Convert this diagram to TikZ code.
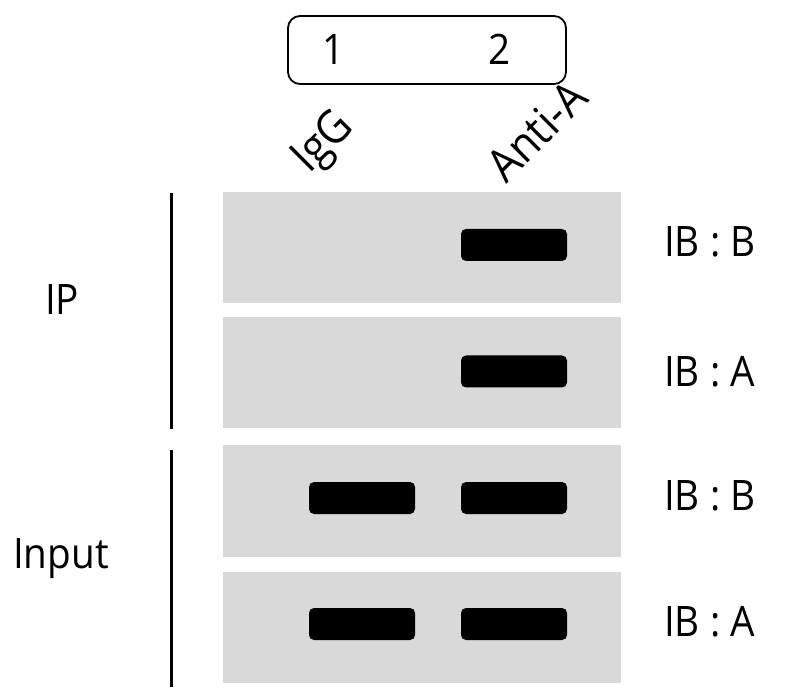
\documentclass[tikz,border=0pt]{standalone}
\usepackage{fontspec}
\setmainfont{Open Sans}[FakeStretch=0.92]
\usepackage{tikz}
\definecolor{gelgray}{HTML}{D9D9D9}
\tikzset{
    lbl/.style={inner sep=0pt, font=\fontsize{42}{50}\selectfont},
    lanelbl/.style={inner sep=0pt, rotate=45, anchor=base west, font=\fontsize{46}{54}\selectfont},
    panel/.style={fill=gelgray, draw=none, minimum width=398pt, minimum height=111pt, inner sep=0pt},
    band/.style={fill=black, rounded corners=5pt, minimum width=106pt, minimum height=32pt, inner sep=0pt},
    bar/.style={line width=3pt}
}
\begin{document}
\begin{tikzpicture}[x=1pt,y=-1pt]
    \useasboundingbox (0,0) rectangle (798,692);
    \node[draw, line width=1.8pt, rounded corners=12pt, minimum width=278pt, minimum height=68pt, inner sep=0pt] (lanes) at (427,50) {};
    \node[lbl, anchor=base] (n1) at (334,65) {1};
    \node[lbl, anchor=base] (n2) at (500,65) {2};
    \node[lanelbl] (igg) at (309,175) {IgG};
    \node[lanelbl] (anti) at (506,185) {Anti-A};
    \foreach \y/\n in {247.5/1,373/2,501/3,627/4}
        \node[panel] (p\n) at (422,\y) {};
    \foreach \y/\n in {245/1,371.5/2,498/3,624/4}
        \node[band] (b2\n) at (514,\y) {};
    \foreach \y/\n in {498/3,624/4}
        \node[band] (b1\n) at (362,\y) {};
    \foreach \y/\t/\n in {257/B/1,387/A/2,510/B/3,636/A/4}
        \node[lbl, anchor=base west] (ib\n) at (664,\y) {IB : \t};
    \node[lbl, anchor=base west] (ip) at (45,315) {IP};
    \node[lbl, anchor=base west] (input) at (13,568) {Input};
    \coordinate (ipt) at (171,193);
    \coordinate (ipb) at (171,429);
    \coordinate (int) at (171,450);
    \coordinate (inb) at (171,687);
    \draw[bar] (ipt) -- (ipb);
    \draw[bar] (int) -- (inb);
\end{tikzpicture}
\end{document}
